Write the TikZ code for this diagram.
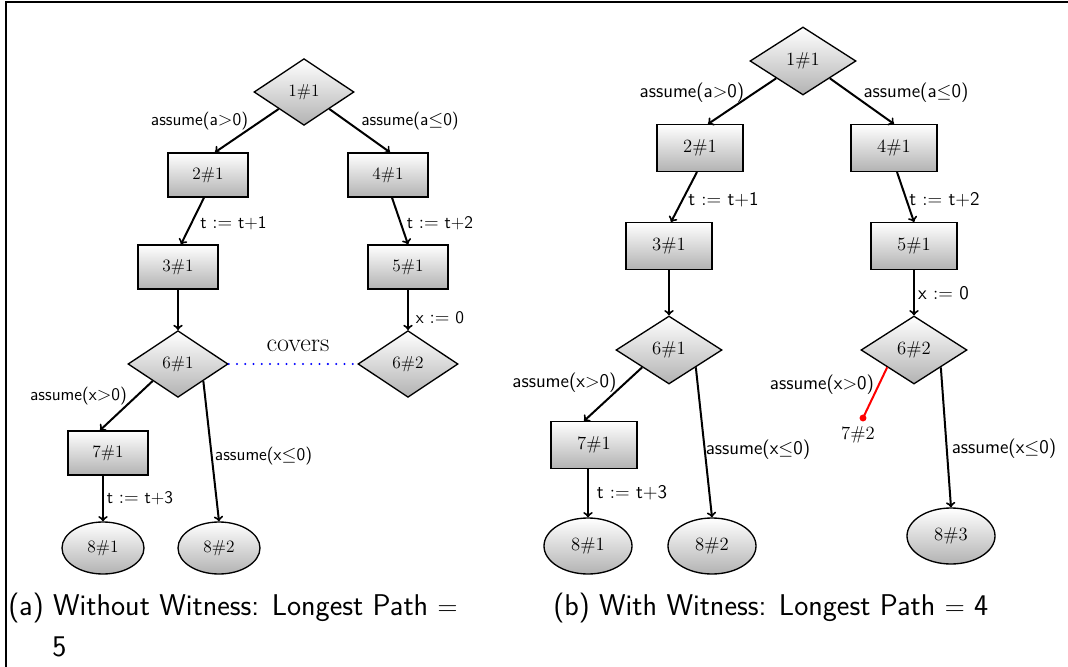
\documentclass[tikz,border=0pt]{standalone}
\usetikzlibrary{shapes.geometric,calc}

\begin{document}
\begin{tikzpicture}[x=0.75pt,y=-0.75pt,
  every node/.style={inner sep=0pt},
  shadefill/.style={draw=black, line width=1pt, top color=white, bottom color=black!30},
  dmdA/.style={shadefill, diamond, minimum width=75pt, minimum height=50pt, font=\fontsize{13}{15}\selectfont},
  boxA/.style={shadefill, rectangle, minimum width=60pt, minimum height=33pt, font=\fontsize{13}{15}\selectfont},
  ellA/.style={shadefill, ellipse, minimum width=61.5pt, minimum height=39pt, font=\fontsize{13}{15}\selectfont},
  dmdB/.style={shadefill, diamond, minimum width=79.5pt, minimum height=51pt, font=\fontsize{14}{16}\selectfont},
  boxB/.style={shadefill, rectangle, minimum width=64.5pt, minimum height=35pt, font=\fontsize{14}{16}\selectfont},
  ellB/.style={shadefill, ellipse, minimum width=66pt, minimum height=42pt, font=\fontsize{14}{16}\selectfont},
  lblA/.style={font=\sffamily\fontsize{13.3}{16}\selectfont},
  lblB/.style={font=\sffamily\fontsize{14.5}{17}\selectfont},
  flow/.style={->, line width=1.5pt},
  caption/.style={font=\sffamily\fontsize{22.5}{27}\selectfont},
]
\useasboundingbox (0,0) rectangle (1068,667);

% frame
\draw[line width=1.1pt] (6,667) -- (6,2) -- (1068,2);

% ---------------- (a) without witness ----------------
\node[dmdA] (a1) at (304,92) {1\#1};
\node[boxA] (a2) at (208,175) {2\#1};
\node[boxA] (a4) at (388,175) {4\#1};
\node[boxA] (a3) at (178,267) {3\#1};
\node[boxA] (a5) at (408,267) {5\#1};
\node[dmdA] (a6) at (178,364) {6\#1};
\node[dmdA] (a62) at (408,364) {6\#2};
\node[boxA] (a7) at (108,453) {7\#1};
\node[ellA] (a81) at (103,548) {8\#1};
\node[ellA] (a82) at (219,548) {8\#2};

\draw[flow] (a1.south west) -- ($(a2.north)+(7,0)$);
\draw[flow] (a1.south east) -- ($(a4.north)+(2,0)$);
\draw[flow] ($(a2.south)+(-4,0)$) -- ($(a3.north)+(3,0)$);
\draw[flow] ($(a4.south)+(4,0)$) -- (a5.north);
\draw[flow] (a3.south) -- (a6.north);
\draw[flow] (a5.south) -- (a62.north);
\draw[flow] (a6.south west) -- ($(a7.north)+(-8,0)$);
\draw[flow] (a6.south east) -- (a82.north);
\draw[flow] (a7.south -| a81.north) -- (a81.north);
\draw[blue, line width=1.7pt, line cap=round, dash pattern=on 0pt off 6.2pt] (a6.east) -- (a62.west);

\node[lblA] (la1) at (199.5,121) {assume(a$>$0)};
\node[lblA] (la2) at (410,121) {assume(a$\leq$0)};
\node[lblA] (la3) at (233.5,223) {t $:=$ t+1};
\node[lblA] (la4) at (440,223) {t $:=$ t+2};
\node[lblA] (la5) at (440,318) {x $:=$ 0};
\node[lblA] (la6) at (78.5,396) {assume(x$>$0)};
\node[lblA] (la7) at (263.5,456) {assume(x$\leq$0)};
\node[lblA] (la8) at (140,498) {t $:=$ t+3};
\node[font=\fontsize{19.5}{22}\selectfont] (cov) at (298,346) {covers};

\node[caption, anchor=base west] (capa) at (8,615) {(a) Without Witness: Longest Path $=$};
\node[caption, anchor=base west] (capa2) at (52,656) {5};

% ---------------- (b) with witness ----------------
\node[dmdB] (b1) at (803,61) {1\#1};
\node[boxB] (b2) at (700,148) {2\#1};
\node[boxB] (b4) at (894,148) {4\#1};
\node[boxB] (b3) at (669,246) {3\#1};
\node[boxB] (b5) at (914,246) {5\#1};
\node[dmdB] (b6) at (669,350) {6\#1};
\node[dmdB] (b62) at (914,350) {6\#2};
\node[boxB] (b7) at (594,445) {7\#1};
\node[ellB] (b81) at (588,546) {8\#1};
\node[ellB] (b82) at (712,546) {8\#2};
\node[ellB] (b83) at (951,536) {8\#3};
\coordinate (b72dot) at (863,418);
\node[font=\fontsize{14}{16}\selectfont] (b72) at (858,435) {7\#2};

\draw[flow] (b1.south west) -- ($(b2.north)+(8,0)$);
\draw[flow] (b1.south east) -- (b4.north);
\draw[flow] ($(b2.south)+(-3,0)$) -- ($(b3.north)+(2,0)$);
\draw[flow] ($(b4.south)+(3,0)$) -- (b5.north);
\draw[flow] (b3.south) -- (b6.north);
\draw[flow] (b5.south) -- (b62.north);
\draw[flow] (b6.south west) -- ($(b7.north)+(-10,0)$);
\draw[flow] (b6.south east) -- (b82.north);
\draw[flow] (b7.south -| b81.north) -- (b81.north);
\draw[flow] (b62.south east) -- (b83.north);
\draw[red, line width=1.5pt] (b62.south west) -- (b72dot);
\fill[red] (b72dot) circle (2.6pt);

\node[lblB] (lb1) at (692,93) {assume(a$>$0)};
\node[lblB] (lb2) at (916,93) {assume(a$\leq$0)};
\node[lblB] (lb3) at (723.5,200) {t $:=$ t+1};
\node[lblB] (lb4) at (944.5,200) {t $:=$ t+2};
\node[lblB] (lb5) at (943.5,293) {x $:=$ 0};
\node[lblB] (lb6) at (564.5,383) {assume(x$>$0)};
\node[lblB] (lb7) at (758,450) {assume(x$\leq$0)};
\node[lblB] (lb8) at (632,493) {t $:=$ t+3};
\node[lblB] (lb9) at (822,385) {assume(x$>$0)};
\node[lblB] (lb10) at (1004,449) {assume(x$\leq$0)};

\node[caption, anchor=base west] (capb) at (553,615) {(b) With Witness: Longest Path $=$ 4};
\end{tikzpicture}
\end{document}
